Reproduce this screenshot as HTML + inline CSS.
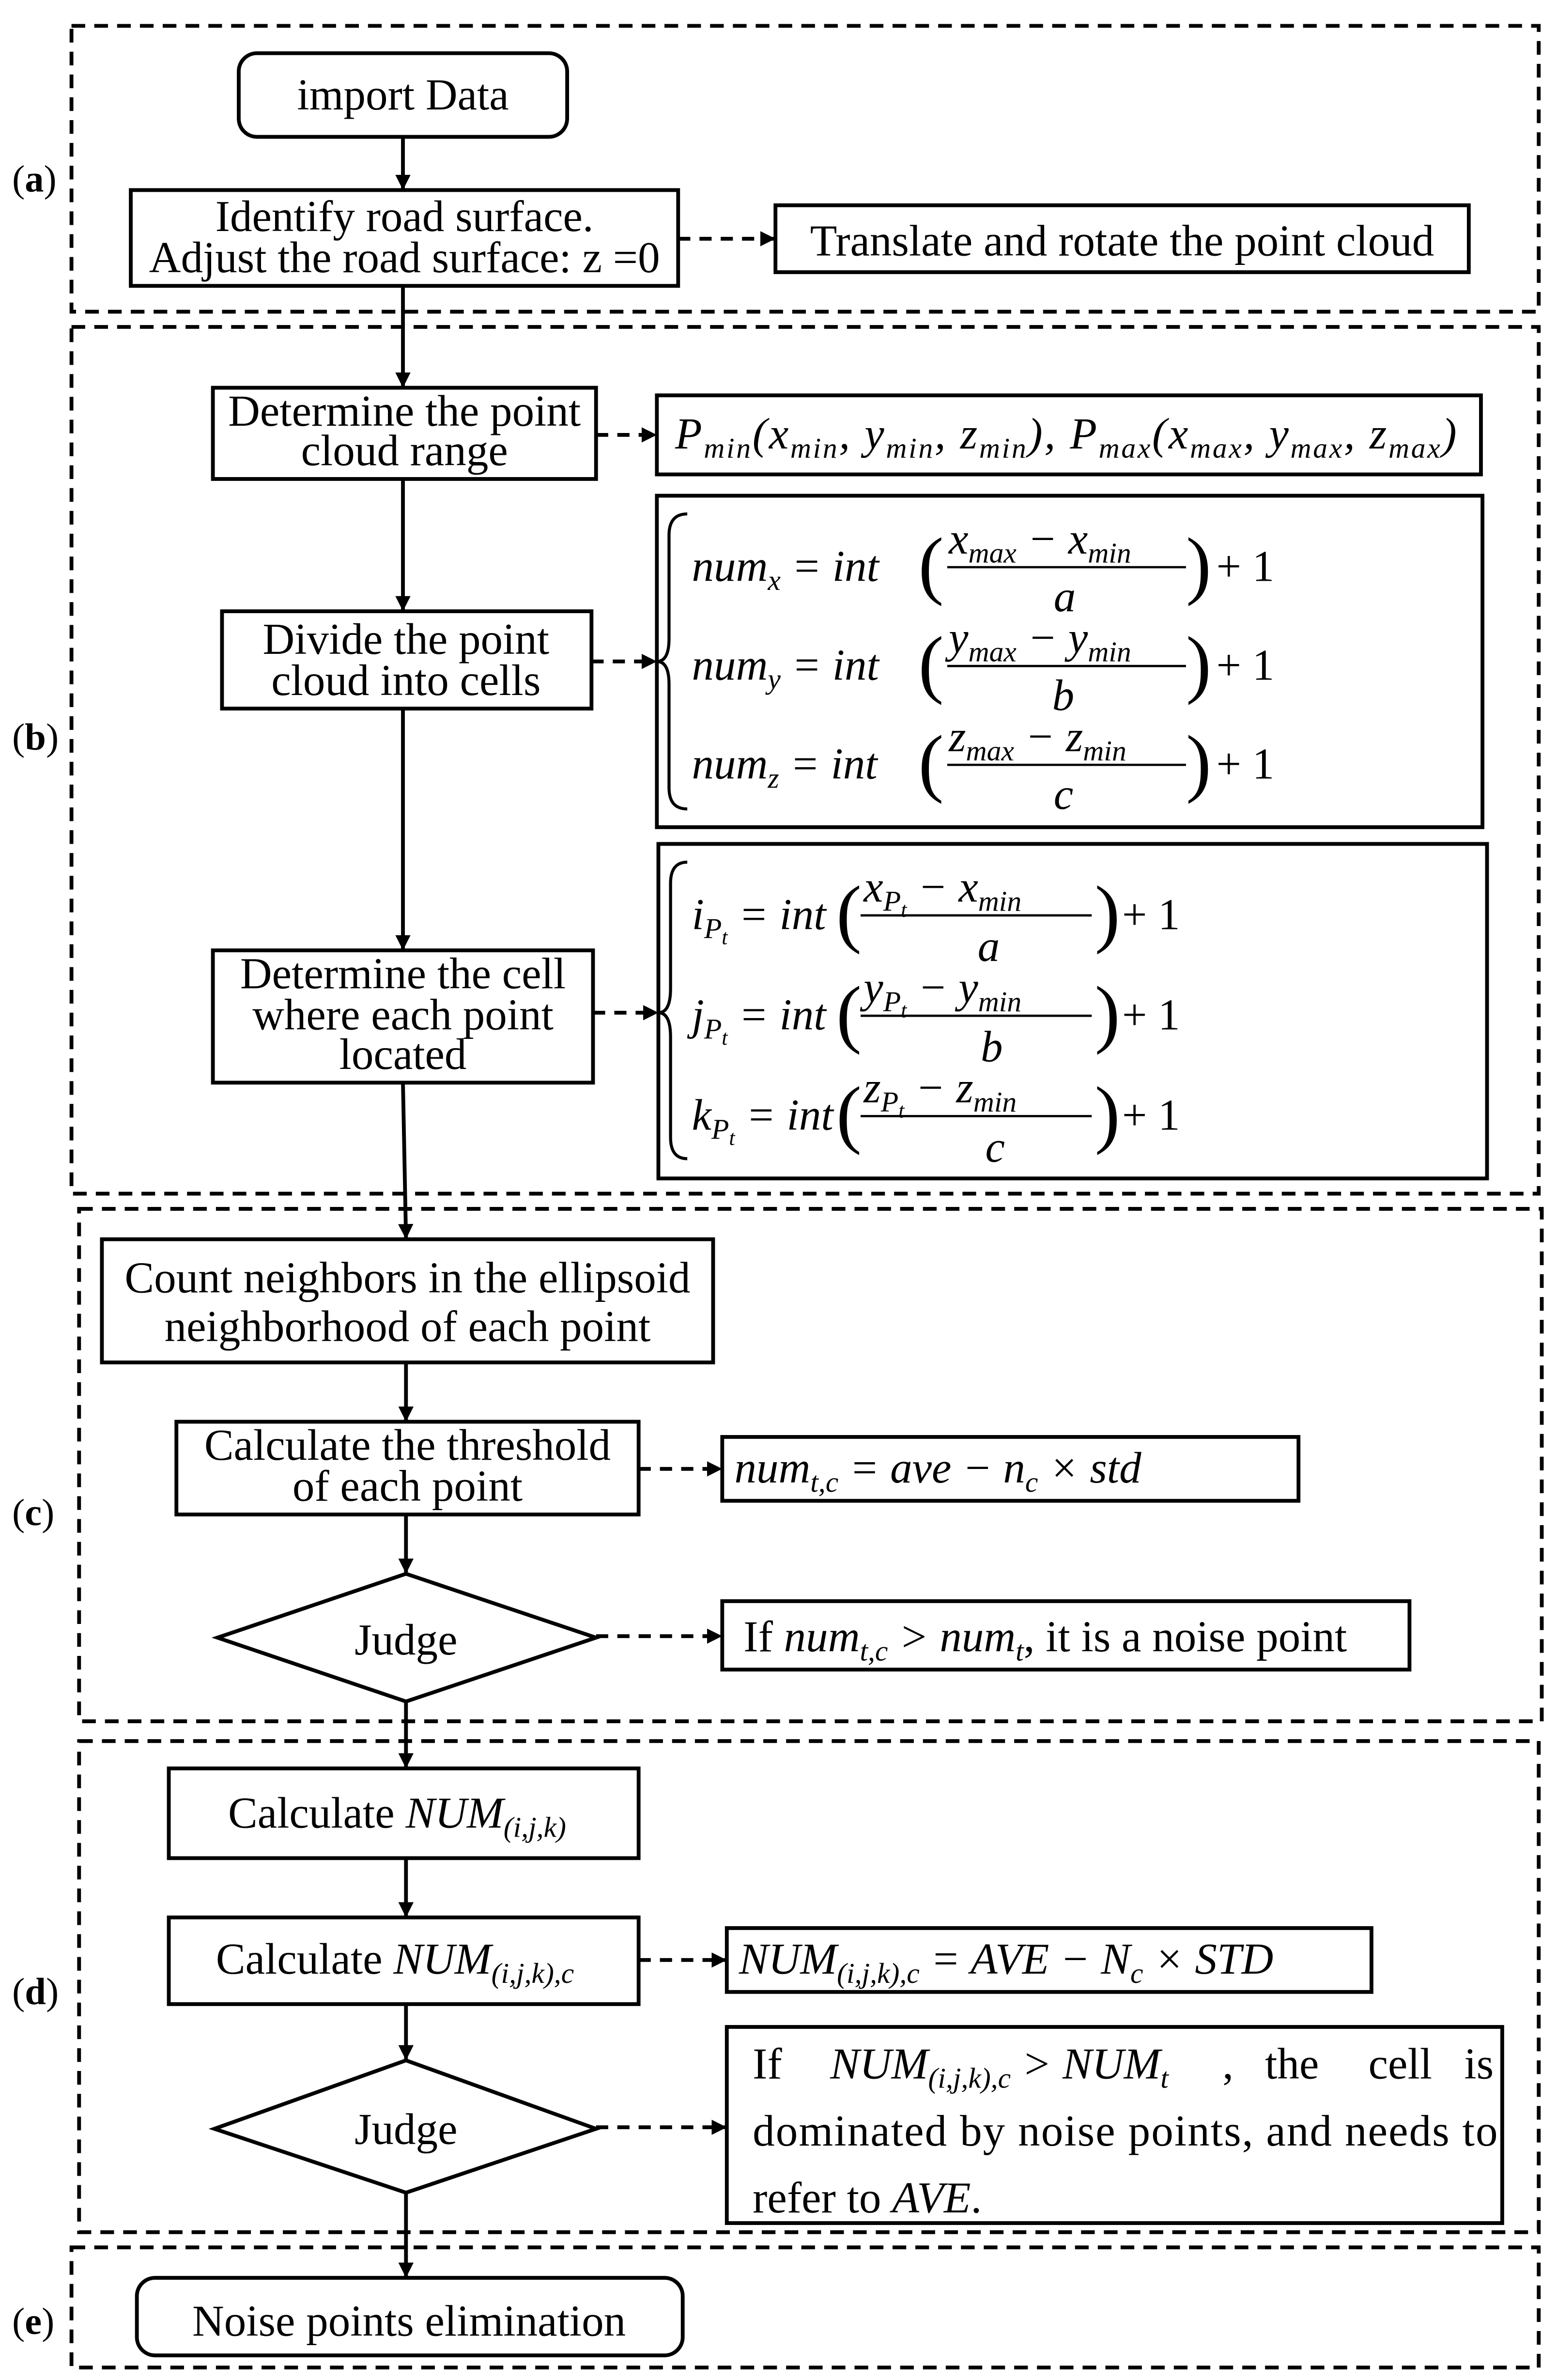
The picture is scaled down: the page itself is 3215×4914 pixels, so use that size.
<!DOCTYPE html>
<html><head><meta charset="utf-8"><style>
html,body{margin:0;padding:0;background:#fff}
svg{display:block}
text{font-family:"Liberation Serif",serif;fill:#000}
.t{font-size:29px}
.l{font-size:25px}
.m{font-size:29px;font-style:italic}
.s{font-size:19px;font-style:italic}
.ss{font-size:14px;font-style:italic}
.p{font-size:50px}
</style></head><body>
<svg width="3215" height="4914" viewBox="0 0 1024 1565.2" xmlns="http://www.w3.org/2000/svg">
<defs>
<marker id="a" markerWidth="10" markerHeight="10" refX="9" refY="5" orient="auto" markerUnits="userSpaceOnUse"><path d="M0,0 L10,5 L0,10 Z" fill="#000"/></marker>
</defs>
<g fill="none" stroke="#000" stroke-width="2.5" stroke-dasharray="9,6">
<rect x="47" y="17" width="965" height="188"/>
<rect x="47" y="215" width="965" height="570"/>
<rect x="52" y="795" width="962" height="337"/>
<rect x="52" y="1145" width="960" height="323"/>
<rect x="47" y="1478" width="965" height="79"/>
</g>
<g>
<text x="8" y="126" class="l">(<tspan font-weight="bold">a</tspan>)</text>
<text x="8" y="493" class="l">(<tspan font-weight="bold">b</tspan>)</text>
<text x="8" y="1003" class="l">(<tspan font-weight="bold">c</tspan>)</text>
<text x="8" y="1318" class="l">(<tspan font-weight="bold">d</tspan>)</text>
<text x="8" y="1535" class="l">(<tspan font-weight="bold">e</tspan>)</text>
</g>
<g fill="none" stroke="#000" stroke-width="2.5">
<rect x="157" y="35" width="216" height="55" rx="12"/>
<rect x="86" y="125" width="360" height="63"/>
<rect x="510" y="135" width="456" height="44"/>
<rect x="140" y="255" width="252" height="60"/>
<rect x="432" y="260" width="542" height="52"/>
<rect x="146" y="402" width="243" height="64"/>
<rect x="432" y="326" width="543" height="218"/>
<rect x="140" y="625" width="250" height="87"/>
<rect x="433" y="555" width="545" height="220"/>
<rect x="67" y="815" width="402" height="81"/>
<rect x="116" y="935" width="304" height="61"/>
<rect x="475" y="945" width="379" height="42"/>
<path d="M143,1077 L267,1035 L392,1077 L267,1119 Z"/>
<rect x="475" y="1053" width="452" height="45"/>
<rect x="111" y="1163" width="309" height="59"/>
<rect x="111" y="1261" width="309" height="57"/>
<rect x="478" y="1268" width="424" height="42"/>
<path d="M141,1400 L267,1355 L392,1400 L267,1442 Z"/>
<rect x="478" y="1333" width="510" height="129"/>
<rect x="90" y="1498" width="359" height="51" rx="12"/>
</g>
<g stroke="#000" stroke-width="2.5" marker-end="url(#a)">
<line x1="265" y1="90" x2="265" y2="124"/>
<line x1="265" y1="188" x2="265" y2="254"/>
<line x1="265" y1="315" x2="265" y2="401"/>
<line x1="265" y1="466" x2="265" y2="624"/>
<line x1="265" y1="712" x2="267" y2="814"/>
<line x1="267" y1="896" x2="267" y2="934"/>
<line x1="267" y1="996" x2="267" y2="1034"/>
<line x1="267" y1="1119" x2="267" y2="1162"/>
<line x1="267" y1="1222" x2="267" y2="1260"/>
<line x1="267" y1="1318" x2="267" y2="1354"/>
<line x1="267" y1="1442" x2="267" y2="1497"/>
</g>
<g stroke="#000" stroke-width="2.5" stroke-dasharray="8,6" marker-end="url(#a)">
<line x1="446" y1="157" x2="509" y2="157"/>
<line x1="392" y1="286" x2="431" y2="286"/>
<line x1="389" y1="435" x2="431" y2="435"/>
<line x1="390" y1="666" x2="432" y2="666"/>
<line x1="420" y1="966" x2="474" y2="966"/>
<line x1="392" y1="1076" x2="474" y2="1076"/>
<line x1="420" y1="1289" x2="477" y2="1289"/>
<line x1="392" y1="1399" x2="477" y2="1399"/>
</g>
<g class="t" text-anchor="middle">
<text x="265" y="72">import Data</text>
<text x="266" y="152">Identify road surface.</text>
<text x="266" y="179">Adjust the road surface: z =0</text>
<text x="738" y="168">Translate and rotate the point cloud</text>
<text x="266" y="280">Determine the point</text>
<text x="266" y="306">cloud range</text>
<text x="267" y="430">Divide the point</text>
<text x="267" y="457">cloud into cells</text>
<text x="265" y="650">Determine the cell</text>
<text x="265" y="677">where each point</text>
<text x="265" y="703">located</text>
<text x="268" y="850">Count neighbors in the ellipsoid</text>
<text x="268" y="882">neighborhood of each point</text>
<text x="268" y="960">Calculate the threshold</text>
<text x="268" y="987">of each point</text>
<text x="267" y="1088">Judge</text>
<text x="267" y="1410">Judge</text>
<text x="269" y="1536">Noise points elimination</text>
</g>
<text x="150" y="1202" class="t">Calculate <tspan class="m">NUM</tspan><tspan class="s" dy="6">(i,j,k)</tspan></text>
<text x="142" y="1298" class="t">Calculate <tspan class="m">NUM</tspan><tspan class="s" dy="6">(i,j,k),c</tspan></text>
<text x="444" y="295" class="m" textLength="514" lengthAdjust="spacing">P<tspan class="s" dy="6">min</tspan><tspan dy="-6">(x</tspan><tspan class="s" dy="6">min</tspan><tspan dy="-6">, y</tspan><tspan class="s" dy="6">min</tspan><tspan dy="-6">, z</tspan><tspan class="s" dy="6">min</tspan><tspan dy="-6">), P</tspan><tspan class="s" dy="6">max</tspan><tspan dy="-6">(x</tspan><tspan class="s" dy="6">max</tspan><tspan dy="-6">, y</tspan><tspan class="s" dy="6">max</tspan><tspan dy="-6">, z</tspan><tspan class="s" dy="6">max</tspan><tspan dy="-6">)</tspan></text>
<g fill="none" stroke="#000" stroke-width="2">
<path d="M452,338 Q440,338 440,352 L440,420 Q440,435 432,435 Q440,435 440,450 L440,518 Q440,532 452,532"/>
<path d="M452,567 Q441,567 441,581 L441,650 Q441,666 433,666 Q441,666 441,682 L441,748 Q441,762 452,762"/>
</g>
<g>
<text x="455" y="382" class="m">num<tspan class="s" dy="6">x</tspan><tspan dy="-6"> = int</tspan></text>
<text x="604" y="388" class="p">(</text><text x="780" y="388" class="p">)</text>
<text x="624" y="364" class="m">x<tspan class="s" dy="6">max</tspan><tspan dy="-6"> − x</tspan><tspan class="s" dy="6">min</tspan></text>
<line x1="623" y1="373" x2="780" y2="373" stroke="#000" stroke-width="1.5"/>
<text x="693" y="402" class="m">a</text>
<text x="800" y="382" class="t">+ 1</text>

<text x="455" y="447" class="m">num<tspan class="s" dy="6">y</tspan><tspan dy="-6"> = int</tspan></text>
<text x="604" y="453" class="p">(</text><text x="780" y="453" class="p">)</text>
<text x="624" y="429" class="m">y<tspan class="s" dy="6">max</tspan><tspan dy="-6"> − y</tspan><tspan class="s" dy="6">min</tspan></text>
<line x1="623" y1="438" x2="780" y2="438" stroke="#000" stroke-width="1.5"/>
<text x="692" y="467" class="m">b</text>
<text x="800" y="447" class="t">+ 1</text>

<text x="455" y="512" class="m">num<tspan class="s" dy="6">z</tspan><tspan dy="-6"> = int</tspan></text>
<text x="604" y="518" class="p">(</text><text x="780" y="518" class="p">)</text>
<text x="624" y="494" class="m">z<tspan class="s" dy="6">max</tspan><tspan dy="-6"> − z</tspan><tspan class="s" dy="6">min</tspan></text>
<line x1="623" y1="503" x2="780" y2="503" stroke="#000" stroke-width="1.5"/>
<text x="693" y="532" class="m">c</text>
<text x="800" y="512" class="t">+ 1</text>
</g>
<g>
<text x="455" y="611" class="m">i<tspan class="s" dy="6">P</tspan><tspan class="ss" dy="4">t</tspan><tspan dy="-10"> =  int</tspan></text>
<text x="550" y="617" class="p">(</text><text x="720" y="617" class="p">)</text>
<text x="568" y="593" class="m">x<tspan class="s" dy="6">P</tspan><tspan class="ss" dy="4">t</tspan><tspan dy="-10"> − x</tspan><tspan class="s" dy="6">min</tspan></text>
<line x1="566" y1="602" x2="718" y2="602" stroke="#000" stroke-width="1.5"/>
<text x="643" y="632" class="m">a</text>
<text x="738" y="611" class="t">+ 1</text>

<text x="455" y="677" class="m">j<tspan class="s" dy="6">P</tspan><tspan class="ss" dy="4">t</tspan><tspan dy="-10"> =  int</tspan></text>
<text x="550" y="683" class="p">(</text><text x="720" y="683" class="p">)</text>
<text x="568" y="659" class="m">y<tspan class="s" dy="6">P</tspan><tspan class="ss" dy="4">t</tspan><tspan dy="-10"> − y</tspan><tspan class="s" dy="6">min</tspan></text>
<line x1="566" y1="668" x2="718" y2="668" stroke="#000" stroke-width="1.5"/>
<text x="645" y="698" class="m">b</text>
<text x="738" y="677" class="t">+ 1</text>

<text x="455" y="743" class="m">k<tspan class="s" dy="6">P</tspan><tspan class="ss" dy="4">t</tspan><tspan dy="-10"> =  int</tspan></text>
<text x="550" y="749" class="p">(</text><text x="720" y="749" class="p">)</text>
<text x="568" y="725" class="m">z<tspan class="s" dy="6">P</tspan><tspan class="ss" dy="4">t</tspan><tspan dy="-10"> − z</tspan><tspan class="s" dy="6">min</tspan></text>
<line x1="566" y1="734" x2="718" y2="734" stroke="#000" stroke-width="1.5"/>
<text x="648" y="764" class="m">c</text>
<text x="738" y="743" class="t">+ 1</text>
</g>
<text x="483" y="975" class="m">num<tspan class="s" dy="6">t,c</tspan><tspan dy="-6"> = ave − n</tspan><tspan class="s" dy="6">c</tspan><tspan dy="-6"> × std</tspan></text>
<text x="489" y="1086" class="t">If  <tspan class="m">num</tspan><tspan class="s" dy="6">t,c</tspan><tspan class="m" dy="-6"> &gt; num</tspan><tspan class="s" dy="6">t</tspan><tspan dy="-6">, it is a noise point</tspan></text>
<text x="486" y="1298" class="m">NUM<tspan class="s" dy="6">(i,j,k),c</tspan><tspan dy="-6"> = AVE − N</tspan><tspan class="s" dy="6">c</tspan><tspan dy="-6"> × STD</tspan></text>
<text x="495" y="1367" class="t">If<tspan x="546" class="m">NUM</tspan><tspan class="s" dy="6">(i,j,k),c</tspan><tspan class="m" dy="-6"> &gt; NUM</tspan><tspan class="s" dy="6">t</tspan><tspan dy="-6" x="804">,</tspan><tspan x="832">the</tspan><tspan x="900">cell</tspan><tspan x="963">is</tspan></text>
<text x="495" y="1411" class="t" textLength="490" lengthAdjust="spacing">dominated by noise points, and needs to</text>
<text x="495" y="1455" class="t">refer to <tspan class="m">AVE</tspan>.</text>
</svg>
</body></html>
